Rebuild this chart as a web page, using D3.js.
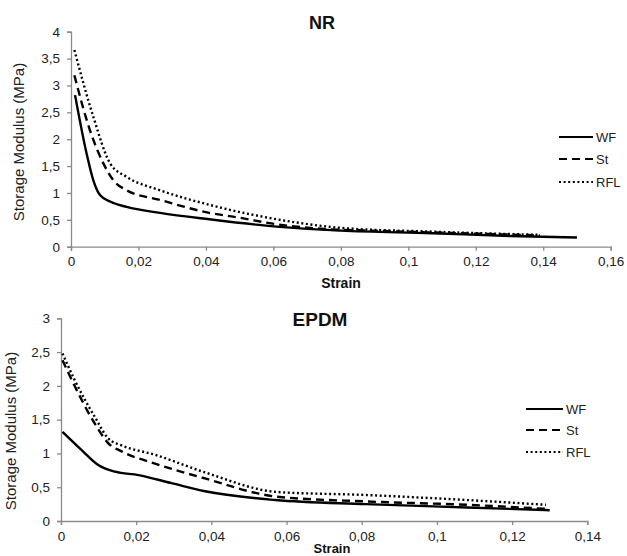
<!DOCTYPE html>
<html><head><meta charset="utf-8">
<script src="https://cdn.jsdelivr.net/npm/d3@7"></script>
<style>
body{margin:0;background:#fff;}
svg{display:block;font-family:"Liberation Sans",Arial,sans-serif;}
</style></head>
<body>
<svg id="chart" width="627" height="556"></svg>
<script>
// ---------- DATA ----------
const seriesNames = ["WF", "St", "RFL"];

// NR panel: [strain, storage modulus MPa]
const nrWF  = [[0.0012,2.82],[0.0046,1.74],[0.0066,1.24],[0.0086,0.96],[0.0116,0.84],[0.0165,0.74],[0.0264,0.63],[0.041,0.51],[0.055,0.41],[0.068,0.34],[0.08,0.30],[0.107,0.25],[0.13,0.20],[0.15,0.17]];
const nrSt  = [[0.001,3.19],[0.0056,2.17],[0.0096,1.55],[0.0125,1.24],[0.0165,1.05],[0.0264,0.87],[0.041,0.63],[0.048,0.56],[0.063,0.40],[0.075,0.33],[0.088,0.30],[0.11,0.26],[0.139,0.21]];
const nrRFL = [[0.001,3.66],[0.0066,2.42],[0.0116,1.55],[0.0165,1.30],[0.0264,1.05],[0.041,0.78],[0.055,0.58],[0.068,0.44],[0.08,0.35],[0.107,0.28],[0.139,0.22]];

// EPDM panel
const epWF  = [[0.0004,1.32],[0.0055,1.05],[0.0099,0.83],[0.0144,0.73],[0.0206,0.68],[0.0294,0.56],[0.0383,0.44],[0.057,0.31],[0.081,0.25],[0.108,0.20],[0.13,0.16]];
const epSt  = [[0.0004,2.38],[0.0046,1.89],[0.009,1.44],[0.0126,1.15],[0.0161,1.03],[0.025,0.85],[0.0383,0.63],[0.0574,0.36],[0.081,0.29],[0.108,0.24],[0.129,0.18]];
const epRFL = [[0.0004,2.48],[0.0036,2.09],[0.009,1.54],[0.0126,1.22],[0.0161,1.12],[0.025,0.98],[0.0383,0.72],[0.0574,0.43],[0.081,0.385],[0.108,0.31],[0.129,0.24]];

// ticks
const nrXTicks = [0,0.02,0.04,0.06,0.08,0.1,0.12,0.14,0.16];
const nrXLabels = ["0","0,02","0,04","0,06","0,08","0,1","0,12","0,14","0,16"];
const nrYTicks = [0,0.5,1,1.5,2,2.5,3,3.5,4];
const nrYLabels = ["0","0,5","1","1,5","2","2,5","3","3,5","4"];
const epXTicks = [0,0.02,0.04,0.06,0.08,0.1,0.12,0.14];
const epXLabels = ["0","0,02","0,04","0,06","0,08","0,1","0,12","0,14"];
const epYTicks = [0,0.5,1,1.5,2,2.5,3];
const epYLabels = ["0","0,5","1","1,5","2","2,5","3"];

// ---------- DRAW ----------
const svg = d3.select("#chart");
const dashes = ["none", "8,5", "2,2.6"];

function panel(cfg){
  const x = d3.scaleLinear().domain(cfg.xDomain).range(cfg.xRange);
  const y = d3.scaleLinear().domain(cfg.yDomain).range(cfg.yRange);
  const g = svg.append("g");

  const xa = g.append("g").attr("transform",`translate(0,${cfg.yRange[0]})`)
    .call(d3.axisBottom(x).tickValues(cfg.xTicks).tickSize(4)
      .tickFormat((d,i)=>cfg.xLabels[i]).tickPadding(6));
  const ya = g.append("g").attr("transform",`translate(${cfg.xRange[0]},0)`)
    .call(d3.axisLeft(y).tickValues(cfg.yTicks).tickSize(4)
      .tickFormat((d,i)=>cfg.yLabels[i]).tickPadding(7));
  [xa,ya].forEach(a=>{
    a.select(".domain").attr("stroke","#8a8a8a").attr("stroke-width",1.3);
    a.selectAll(".tick line").attr("stroke","#8a8a8a").attr("stroke-width",1.3);
    a.selectAll(".tick text").attr("fill","#222").style("font-size","13.5px")
      .style("font-family","'Liberation Sans',Arial,sans-serif");
  });

  const line = d3.line().x(d=>x(d[0])).y(d=>y(d[1])).curve(d3.curveMonotoneX);
  cfg.series.forEach((s,i)=>{
    g.append("path").datum(s).attr("d",line).attr("fill","none")
      .attr("stroke","#000").attr("stroke-width",2.4)
      .attr("stroke-dasharray", dashes[i]);
  });

  // titles
  g.append("text").attr("x",cfg.titleX).attr("y",cfg.titleY).attr("text-anchor","middle")
    .style("font-weight","bold").style("font-size",cfg.titleSize+"px").attr("fill","#111").text(cfg.title);
  g.append("text").attr("x",cfg.xlabX).attr("y",cfg.xlabY).attr("text-anchor","middle")
    .style("font-weight","bold").style("font-size",cfg.xlabSize+"px").attr("fill","#111").text("Strain");
  g.append("text").attr("transform",`translate(${cfg.ylabX},${cfg.ylabY}) rotate(-90)`)
    .attr("text-anchor","middle").style("font-size","15px").attr("fill","#222")
    .text("Storage Modulus (MPa)");

  // legend
  seriesNames.forEach((n,i)=>{
    const ly = cfg.legY[i];
    g.append("line").attr("x1",cfg.legX[0]).attr("x2",cfg.legX[1]).attr("y1",ly).attr("y2",ly)
      .attr("stroke","#000").attr("stroke-width",2.2).attr("stroke-dasharray",dashes[i]);
    g.append("text").attr("x",cfg.legX[1]+3).attr("y",ly+4.5).style("font-size","13px")
      .attr("fill","#222").text(n);
  });
}

panel({
  xDomain:[0,0.16], xRange:[71,610.7], yDomain:[0,4], yRange:[246.7,31.7],
  xTicks:nrXTicks, xLabels:nrXLabels, yTicks:nrYTicks, yLabels:nrYLabels,
  series:[nrWF,nrSt,nrRFL],
  title:"NR", titleX:322, titleY:29, titleSize:18,
  xlabX:341, xlabY:288, xlabSize:14, ylabX:24, ylabY:142,
  legX:[559,593], legY:[137,159,182]
});

panel({
  xDomain:[0,0.14], xRange:[61,587.3], yDomain:[0,3], yRange:[521,318.3],
  xTicks:epXTicks, xLabels:epXLabels, yTicks:epYTicks, yLabels:epYLabels,
  series:[epWF,epSt,epRFL],
  title:"EPDM", titleX:320, titleY:326, titleSize:19,
  xlabX:332, xlabY:553, xlabSize:13, ylabX:16, ylabY:431,
  legX:[526,563], legY:[409,430,452]
});
</script>
</body></html>
